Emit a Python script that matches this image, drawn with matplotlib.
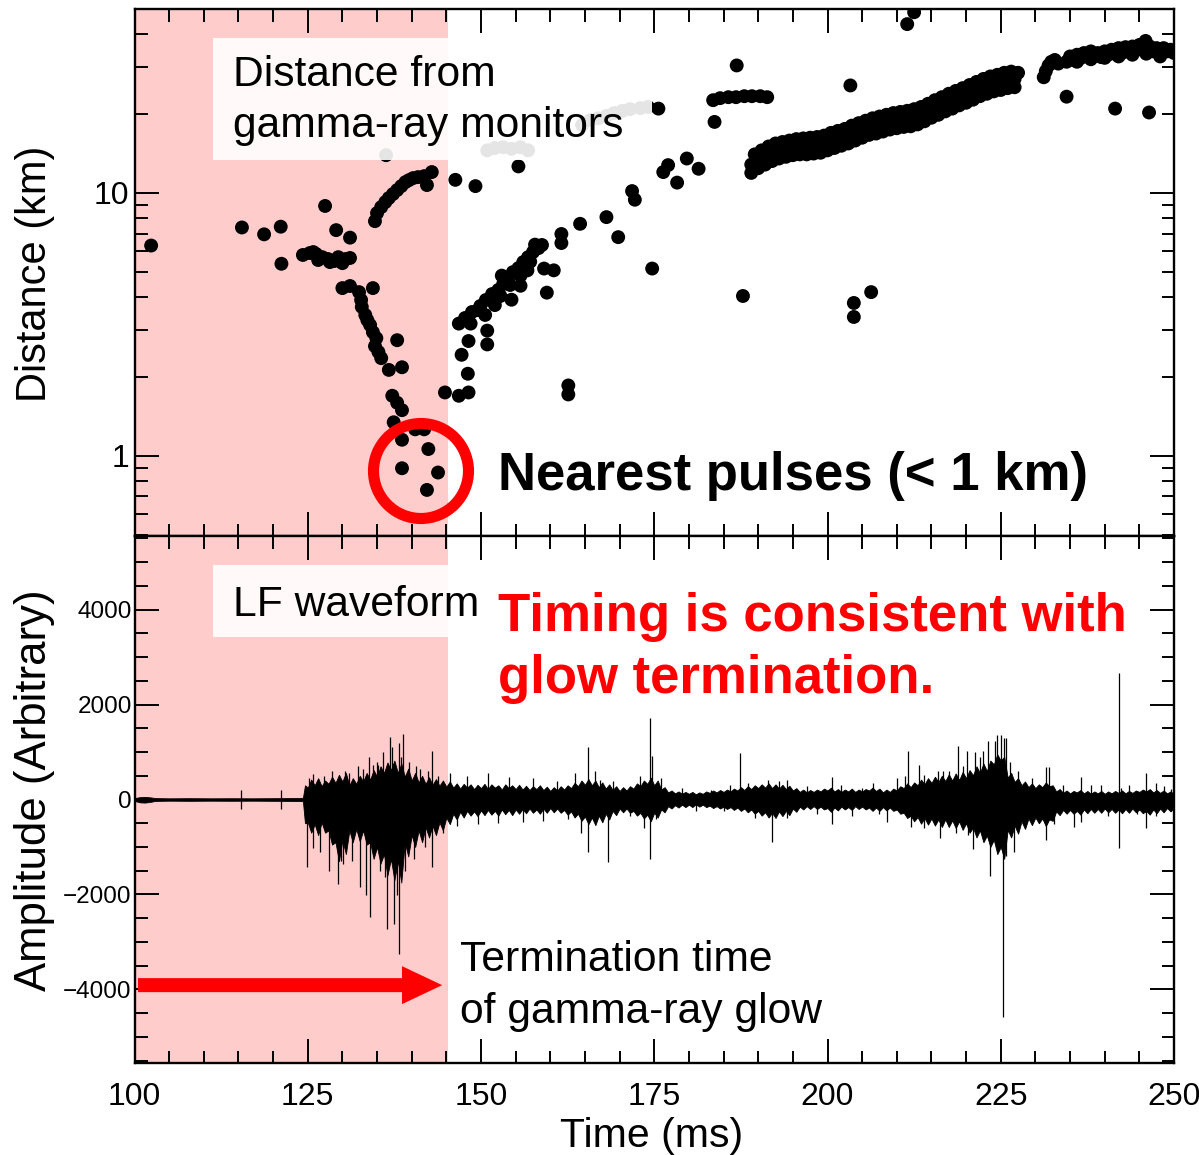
import numpy as np
import matplotlib
matplotlib.use('Agg')
import matplotlib.pyplot as plt
from matplotlib.patches import Rectangle, Ellipse
from matplotlib.ticker import FixedLocator, MultipleLocator, NullFormatter

plt.rcParams['font.family'] = ['Liberation Sans', 'DejaVu Sans']

# ---------------- data: distance of LF pulses (time ms, distance km) ----------------
left_isolated = [(102.4, 6.30), (115.5, 7.38), (118.7, 6.95), (121.1, 7.43), (121.2, 5.37),
                 (127.5, 8.91), (129.1, 7.21), (131.1, 6.75)]
cluster_55 = [(124.3, 5.80), (125.3, 5.90), (126.2, 5.85), (127.1, 5.69), (127.9, 5.60),
              (128.8, 5.50), (129.7, 5.50), (130.5, 5.60), (126.5, 5.55), (128.2, 5.45),
              (129.4, 5.69), (131.1, 5.65), (130.0, 5.40), (125.8, 5.95)]
descending = [(130.0, 4.34), (131.1, 4.42), (132.4, 4.19), (132.7, 3.91), (132.8, 3.68),
              (133.3, 3.43), (133.6, 3.28), (134.0, 3.14), (134.4, 2.95), (134.9, 2.80),
              (134.7, 2.61), (135.2, 2.48), (135.6, 2.35), (134.4, 4.34), (137.9, 2.75),
              (136.7, 2.12), (138.6, 2.17), (137.2, 1.69), (137.9, 1.59), (138.6, 1.49),
              (137.4, 1.34), (138.6, 1.15), (140.5, 1.26), (141.8, 1.26)]
ascending = [(134.7, 7.80), (135.0, 8.37), (135.6, 8.82), (136.2, 9.22), (136.7, 9.55),
             (137.3, 9.89), (137.9, 10.24), (138.5, 10.60), (139.1, 10.98), (139.6, 11.17),
             (140.2, 11.37), (140.9, 11.47), (141.8, 11.57), (142.9, 11.99), (142.2, 10.70)]
nearest = [(138.6, 0.896), (142.4, 1.06), (143.8, 0.863), (142.2, 0.741)]
behind_label = [(150.9, 14.5), (152.0, 14.8), (153.2, 14.9), (154.4, 14.7), (155.7, 14.9),
                (156.8, 14.5), (136.3, 13.9), (164.6, 18.1), (165.8, 18.9), (166.9, 19.2),
                (168.1, 19.6), (169.2, 20.1), (170.4, 20.5), (171.5, 20.8), (173.0, 21.0),
                (174.1, 21.2)]
right_isolated = [(146.3, 11.2), (149.2, 10.6), (155.4, 12.6), (175.6, 20.9), (186.9, 30.5),
                  (183.7, 18.6), (203.3, 25.6), (211.5, 43.8), (212.5, 48.6),
                  (174.7, 5.15), (187.8, 4.05), (203.8, 3.81), (203.8, 3.37), (206.3, 4.19),
                  (162.6, 1.85), (162.6, 1.71), (234.5, 23.2), (241.5, 20.9), (246.4, 20.2)]
plateau_22 = [(183.5, 22.5), (184.5, 22.9), (185.7, 23.1), (186.8, 23.1), (188.0, 23.3),
              (189.1, 23.3), (190.3, 23.3), (191.3, 23.1)]
lower_branch = [(144.8, 1.74), (146.8, 1.69), (148.2, 1.74), (148.1, 2.05), (147.2, 2.42),
                (148.2, 2.73), (146.8, 3.18), (148.5, 3.18), (150.9, 2.65), (150.9, 2.99),
                (149.6, 3.58), (151.6, 3.92), (153.0, 4.84), (154.4, 3.92), (155.7, 4.43),
                (157.1, 5.47), (157.8, 6.35), (159.1, 5.15), (159.5, 4.17), (160.5, 5.07),
                (161.6, 6.97), (161.6, 6.44), (164.3, 7.62), (168.1, 8.08), (169.8, 6.78),
                (171.8, 10.15), (172.2, 9.41), (176.3, 11.99), (177.0, 12.74), (178.3, 10.93),
                (179.7, 13.50), (181.4, 12.34),
                (147.7, 3.34), (148.7, 3.52), (149.9, 3.71), (150.7, 3.91), (151.6, 4.12),
                (152.5, 4.27), (153.2, 4.50), (153.9, 4.74), (154.6, 4.99), (155.4, 5.17),
                (156.1, 5.45), (156.8, 5.69), (157.5, 5.95), (158.3, 6.16), (158.8, 6.33),
                (154.2, 4.46), (155.7, 4.84), (156.7, 5.07), (150.6, 3.43), (152.0, 3.74),
                (152.8, 4.05)]
band_t = [189.0, 189.5, 190.0, 190.5, 191.0, 191.5, 192.0, 192.5, 193.0, 193.5, 194.0, 194.5,
          195.0, 195.5, 196.0, 196.5, 197.0, 197.5, 198.0, 198.5, 199.0, 199.5, 200.0, 200.5,
          201.0, 201.5, 202.0, 202.5, 203.0, 203.5, 204.0, 204.5, 205.0, 205.5, 206.0, 206.5,
          207.0, 207.5, 208.0, 208.5, 209.0, 209.5, 210.0, 210.5, 211.0, 211.5, 212.0, 212.5,
          213.0, 213.5, 214.0, 214.5, 215.0, 215.5, 216.0, 216.5, 217.0, 217.5, 218.0, 218.5,
          219.0, 219.5, 220.0, 220.5, 221.0, 221.5, 222.0, 222.5, 223.0, 223.5, 224.0, 224.5,
          225.0, 225.5, 226.0, 226.5, 227.0, 227.5]
band_edge = [11.9, 14.0, 12.4, 14.5, 12.8, 15.0, 13.2, 15.4, 13.5, 15.6, 13.7, 15.8,
             13.9, 16.0, 14.0, 16.1, 14.0, 16.2, 14.1, 16.3, 14.2, 16.5, 14.5, 16.9,
             14.8, 17.2, 15.1, 17.5, 15.4, 18.0, 15.8, 18.4, 16.2, 18.8, 16.6, 19.2,
             16.8, 19.5, 17.1, 19.8, 17.4, 20.1, 17.6, 20.3, 17.8, 20.5, 17.9, 20.8,
             18.2, 21.2, 18.7, 21.8, 19.3, 22.5, 19.8, 23.1, 20.4, 23.8, 20.9, 24.4,
             21.5, 25.0, 22.0, 25.7, 22.6, 26.4, 23.3, 27.1, 23.8, 27.7, 24.3, 28.1,
             24.6, 28.6, 25.0, 28.9, 25.2, 28.6]
band_mid_t = [189, 190, 191, 192, 193, 194, 195, 196, 197, 198, 199, 200, 201, 202, 203, 204,
              205, 206, 207, 208, 209, 210, 211, 212, 213, 214, 215, 216, 217, 218, 219, 220,
              221, 222, 223, 224, 225, 226, 227]
band_mid = [12.8, 13.3, 13.8, 14.2, 14.5, 14.7, 14.9, 15.0, 15.1, 15.2, 15.3, 15.6, 15.9, 16.2,
            16.6, 17.0, 17.4, 17.8, 18.1, 18.4, 18.7, 18.9, 19.1, 19.3, 19.6, 20.1, 20.7, 21.3,
            21.9, 22.5, 23.1, 23.7, 24.3, 25.0, 25.6, 26.1, 26.5, 26.9, 27.1]
upper_right = [(231.2, 27.5), (231.5, 29.0), (231.9, 30.5), (232.3, 31.5), (232.8, 32.0),
               (233.3, 31.0), (234.5, 31.5), (235.0, 33.0), (235.5, 32.0), (236.0, 33.5),
               (236.5, 32.5), (237.0, 34.0), (237.5, 33.0), (238.0, 34.5), (238.5, 33.2),
               (239.0, 34.0), (239.5, 32.8), (240.0, 34.5), (240.5, 33.5), (241.0, 35.0),
               (241.5, 33.8), (242.0, 35.5), (242.5, 34.0), (243.0, 35.8), (243.5, 34.5),
               (244.0, 36.0), (244.5, 34.8), (245.0, 36.5), (245.5, 35.0), (245.9, 37.8),
               (246.5, 36.0), (247.0, 34.5), (247.5, 35.5), (248.0, 34.0), (248.5, 35.5),
               (249.0, 34.5), (249.5, 35.0), (250.0, 34.0), (236.0, 31.5), (238.0, 32.2),
               (240.0, 32.6), (242.0, 33.0), (244.0, 33.5), (246.0, 33.8), (248.0, 33.0)]

# ---------------- data: LF waveform envelope (0.5 ms) and spikes ----------------
quiet_t = [100, 100.8, 101.5, 102.3, 103, 105, 108, 111, 114, 117, 120, 123, 124.3, 124.6]
quiet_up = [30, 50, 55, 45, 30, 25, 28, 25, 27, 25, 28, 30, 35, 300]
quiet_lo = [-30, -60, -65, -50, -30, -25, -28, -25, -27, -25, -28, -30, -35, -500]
burst_t = np.arange(125, 250.5, 0.5)
burst_up = [
    250, 420, 300, 450, 280, 400, 330, 480, 350, 520,      # 125
    380, 560, 300, 450, 330, 500, 380, 560, 420, 620,      # 130
    480, 700, 560, 780, 620, 820, 560, 760, 480, 650,      # 135
    400, 560, 360, 500, 330, 470, 310, 430, 290, 400,      # 140
    270, 380, 250, 340, 230, 330, 250, 320, 220, 310,      # 145
    240, 330, 220, 320, 250, 300, 210, 320, 240, 300,      # 150
    220, 310, 210, 290, 200, 280, 220, 300, 200, 270,      # 155
    180, 260, 190, 280, 210, 300, 240, 350, 280, 400,      # 160
    310, 430, 300, 400, 260, 360, 230, 320, 200, 280,      # 165
    180, 260, 190, 280, 230, 340, 280, 400, 330, 460,      # 170
    300, 400, 210, 260, 150, 190, 130, 170, 120, 160,      # 175
    120, 160, 110, 150, 120, 170, 140, 190, 150, 200,      # 180
    160, 210, 170, 230, 190, 260, 200, 280, 220, 300,      # 185
    240, 320, 250, 340, 240, 320, 230, 310, 220, 290,      # 190
    190, 240, 160, 210, 150, 200, 160, 210, 170, 230,      # 195
    190, 250, 170, 220, 160, 210, 170, 230, 160, 210,      # 200
    170, 220, 190, 250, 180, 230, 150, 210, 160, 230,      # 205
    190, 280, 240, 340, 260, 360, 300, 420, 320, 450,      # 210
    350, 480, 370, 500, 390, 530, 400, 550, 410, 580,      # 215
    450, 620, 510, 700, 560, 760, 600, 820, 740, 950,      # 220
    820, 900, 460, 560, 370, 450, 300, 380, 260, 340,      # 225
    240, 320, 260, 360, 280, 300, 170, 220, 140, 190,      # 230
    130, 180, 150, 200, 130, 180, 120, 170, 130, 180,      # 235
    120, 170, 130, 180, 140, 190, 130, 180, 140, 190,      # 240
    160, 210, 170, 220, 150, 200, 140, 190, 130, 170,      # 245
    120]
burst_lo = [
    -480, -700, -520, -750, -480, -700, -650, -950, -900, -1300,      # 125
    -850, -1150, -650, -900, -620, -880, -650, -950, -900, -1250,     # 130
    -1000, -1350, -1150, -1600, -1250, -1700, -1300, -1750, -900, -1200,  # 135
    -750, -1000, -650, -900, -580, -800, -550, -750, -480, -650,      # 140
    -380, -520, -300, -420, -260, -380, -240, -340, -250, -350,       # 145
    -230, -330, -220, -320, -240, -340, -210, -310, -220, -330,       # 150
    -210, -300, -200, -290, -190, -280, -210, -300, -190, -280,       # 155
    -180, -270, -190, -280, -220, -320, -250, -380, -300, -450,       # 160
    -360, -520, -380, -540, -340, -480, -300, -420, -240, -330,       # 165
    -190, -270, -190, -280, -240, -340, -280, -400, -320, -460,       # 170
    -280, -380, -210, -270, -140, -190, -120, -170, -110, -160,       # 175
    -110, -160, -100, -150, -110, -160, -130, -180, -140, -190,       # 180
    -150, -200, -160, -220, -170, -240, -190, -270, -210, -300,       # 185
    -240, -340, -270, -380, -280, -390, -250, -350, -240, -330,       # 190
    -190, -260, -150, -210, -140, -200, -140, -200, -150, -210,       # 195
    -180, -260, -170, -230, -150, -210, -160, -220, -140, -200,       # 200
    -150, -210, -170, -240, -170, -240, -160, -230, -170, -240,       # 205
    -210, -300, -280, -390, -340, -460, -370, -510, -390, -530,       # 210
    -400, -550, -420, -580, -420, -580, -440, -600, -460, -640,       # 215
    -500, -700, -590, -800, -650, -900, -760, -1000, -850, -1150,     # 220
    -1000, -1250, -640, -800, -550, -720, -460, -620, -400, -540,     # 225
    -380, -500, -400, -560, -420, -450, -250, -330, -220, -300,       # 230
    -220, -300, -240, -320, -210, -290, -200, -280, -200, -280,       # 235
    -190, -270, -200, -280, -210, -290, -200, -280, -190, -270,       # 240
    -210, -290, -240, -320, -210, -290, -190, -270, -180, -250,       # 245
    -170]
spike_t = [115.4, 115.4, 121.1, 121.1, 124.9, 125.2, 125.8, 125.8, 126.7, 127.3, 128.1, 128.5,
           129.4, 129.8, 130.1, 130.4, 131.0, 131.4, 132.2, 132.6, 133.0, 133.4, 133.8, 134.0,
           134.4, 135.0, 135.2, 135.4, 135.8, 136.2, 136.5, 136.9, 137.2, 137.4, 137.9, 138.2,
           138.2, 138.5, 138.8, 139.1, 139.6, 140.3, 140.6, 141.2, 141.9, 142.3, 142.9, 142.9,
           143.8, 144.5, 145.5, 146.5, 148.0, 149.5, 151.0, 152.5, 154.0, 156.0, 157.5, 159.0,
           161.0, 162.5, 163.5, 164.5, 165.5, 165.5, 166.5, 167.2, 168.3, 169.0, 171.5, 173.0,
           173.5, 174.4, 174.4, 174.7, 175.3, 176.0, 179.0, 181.0, 183.2, 185.0, 186.0, 187.4,
           188.5, 189.5, 191.4, 192.0, 193.0, 194.2, 194.2, 197.0, 198.5, 200.6, 200.6, 202.0,
           203.6, 205.0, 206.5, 207.5, 208.6, 210.0, 211.2, 211.6, 212.0, 213.2, 213.9, 213.9,
           215.9, 216.3, 216.7, 217.6, 218.6, 218.8, 219.5, 220.2, 220.3, 221.0, 221.3, 222.0,
           222.4, 223.1, 223.5, 224.2, 224.5, 225.0, 225.3, 225.5, 225.7, 225.8, 226.3, 226.9,
           227.5, 228.5, 229.5, 230.5, 231.5, 231.5, 231.9, 232.7, 234.0, 235.6, 236.6, 236.6,
           238.0, 239.5, 240.5, 242.1, 242.1, 242.3, 243.5, 244.6, 246.0, 246.0, 247.4, 247.4,
           248.5, 249.6, 249.6]
spike_amp = [190, -210, 210, -195, -1430, 450, 540, -1030, -1110, 500, -1500, 600,
             -1770, -1300, -1350, 610, 550, -1290, 700, -1850, 650, -2020, 900, -2480,
             720, 800, 720, -1500, 1000, -1640, -2730, 1310, 1100, -2620, -2020, -3250,
             1180, 900, 1390, -1500, 800, -1250, 700, 650, -1000, 600, 1030, -1430,
             500, -700, 550, -550, 500, -520, 550, -500, 480, -480, 450, -450,
             400, -420, 550, -700, 1100, -1100, 600, 420, -1310, 400, -350, 500,
             -600, 1710, -1250, 910, -420, 450, 250, -250, 210, -250, 300, 975,
             350, -400, 420, -890, 400, 420, -380, 280, -300, 470, -525, 300,
             -340, 250, 340, -300, -470, 450, 500, 1016, -580, 720, 510, -600,
             610, -810, 610, 610, -700, 1120, 700, 1030, -740, -1040, 1010, 900,
             1030, 1240, -1610, 1240, 1350, 1350, -4590, 1300, -1190, 1290, 800, -1100,
             600, -600, 450, -500, 680, -850, 695, -510, 300, -580, 470, -470,
             300, 300, -350, 2670, -1020, 250, 300, -300, 550, -610, 340, -355,
             280, 220, -250]

glow_end = 145.2          # termination time of gamma-ray glow (ms)
x_ticks = [100, 125, 150, 175, 200, 225, 250]
dist_ticks = [1, 10]
dist_minor = [0.5, 0.6, 0.7, 0.8, 0.9, 2, 3, 4, 5, 6, 7, 8, 9, 20, 30, 40, 50]
amp_ticks = [-4000, -2000, 0, 2000, 4000]

# ---------------- figure ----------------
W, H = 1199, 1155
fig = plt.figure(figsize=(W / 100, H / 100), dpi=100)
def fx(px): return px / W
def fy(py): return 1 - py / H

L, R = 134.5, 1174
ax1 = fig.add_axes([fx(L), fy(536), fx(R) - fx(L), fy(9) - fy(536)])
ax2 = fig.add_axes([fx(L), fy(1063), fx(R) - fx(L), fy(536) - fy(1063)])

pink = '#ffcccc'
for ax in (ax1, ax2):
    ax.axvspan(100, glow_end, color=pink, lw=0, zorder=0)
    ax.set_xlim(100, 250)
    ax.xaxis.set_major_locator(FixedLocator(x_ticks))
    ax.xaxis.set_minor_locator(MultipleLocator(5))
    ax.tick_params(which='both', direction='in', top=True, right=True, width=1.4, color='black')
    ax.tick_params(which='major', length=17)
    ax.tick_params(which='minor', length=9)
    for s in ax.spines.values():
        s.set_linewidth(1.7)

# top panel: distances
groups = [left_isolated, cluster_55, descending, ascending, nearest, behind_label,
          right_isolated, plateau_22, lower_branch, upper_right]
pts_t = [p[0] for g in groups for p in g] + band_t + band_mid_t
pts_d = [p[1] for g in groups for p in g] + band_edge + band_mid
ax1.scatter(pts_t, pts_d, s=100, c='black', edgecolors='none', zorder=3)
ax1.set_yscale('log')
ax1.set_ylim(0.495, 50)
ax1.yaxis.set_major_locator(FixedLocator(dist_ticks))
ax1.yaxis.set_minor_locator(FixedLocator(dist_minor))
ax1.yaxis.set_minor_formatter(NullFormatter())
ax1.set_yticklabels(['1', '10'])
ax1.tick_params(axis='y', labelsize=23, pad=4)
ax1.tick_params(axis='x', labelbottom=False)

# label box in top panel
ax1.add_patch(Rectangle(((213 - L) / (R - L), (536 - 160) / 527), (652 - 213) / (R - L), 122 / 527,
                        transform=ax1.transAxes, facecolor='white', alpha=0.9, lw=0, zorder=4))

# bottom panel: waveform
env_t = list(quiet_t) + list(burst_t)
env_up = quiet_up + burst_up
env_lo = quiet_lo + burst_lo
ax2.fill_between(env_t, env_lo, env_up, color='black', lw=0.6, zorder=2)
ax2.vlines(spike_t, 0, spike_amp, color='black', lw=0.9, zorder=2)
ax2.set_ylim(-5550, 5550)
ax2.yaxis.set_major_locator(FixedLocator(amp_ticks))
ax2.yaxis.set_minor_locator(MultipleLocator(500))
ax2.tick_params(axis='y', labelsize=17.5, pad=2)
ax2.tick_params(axis='x', labelsize=23, pad=14)

ax2.add_patch(Rectangle(((213 - L) / (R - L), (1063 - 637) / 527), (490 - 213) / (R - L), 72 / 527,
                        transform=ax2.transAxes, facecolor='white', alpha=0.9, lw=0, zorder=4))
ax2.arrow(100.5, -3910, glow_end - 0.8 - 100.5, 0, width=295, head_width=800, head_length=5.8,
          length_includes_head=True, fc='red', ec='none', zorder=5)

# red circle around the nearest pulses
fig.add_artist(Ellipse((fx(421), fy(471)), 95 / W, 95 / H, transform=fig.transFigure,
                       fill=False, ec='red', lw=8))

# texts
fs = 30.7
fig.text(fx(233), fy(86), 'Distance from', fontsize=fs, va='baseline')
fig.text(fx(233), fy(137), 'gamma-ray monitors', fontsize=fs, va='baseline')
fig.text(fx(498), fy(490), 'Nearest pulses (< 1 km)', fontsize=38, fontweight='bold', va='baseline')
fig.text(fx(233), fy(616), 'LF waveform', fontsize=fs, va='baseline')
fig.text(fx(498), fy(631), 'Timing is consistent with', fontsize=38, fontweight='bold',
         color='red', va='baseline')
fig.text(fx(498), fy(693), 'glow termination.', fontsize=38, fontweight='bold',
         color='red', va='baseline')
fig.text(fx(460), fy(971), 'Termination time', fontsize=fs, va='baseline')
fig.text(fx(460), fy(1023), 'of gamma-ray glow', fontsize=fs, va='baseline')

fig.text(fx(35), fy(274), 'Distance (km)', fontsize=30, rotation=90, ha='center', va='center')
fig.text(fx(35), fy(790), 'Amplitude (Arbitrary)', fontsize=31.5, rotation=90, ha='center', va='center')
fig.text(fx(652), fy(1147), 'Time (ms)', fontsize=29.5, ha='center', va='baseline')

fig.savefig('out.png', dpi=100)
